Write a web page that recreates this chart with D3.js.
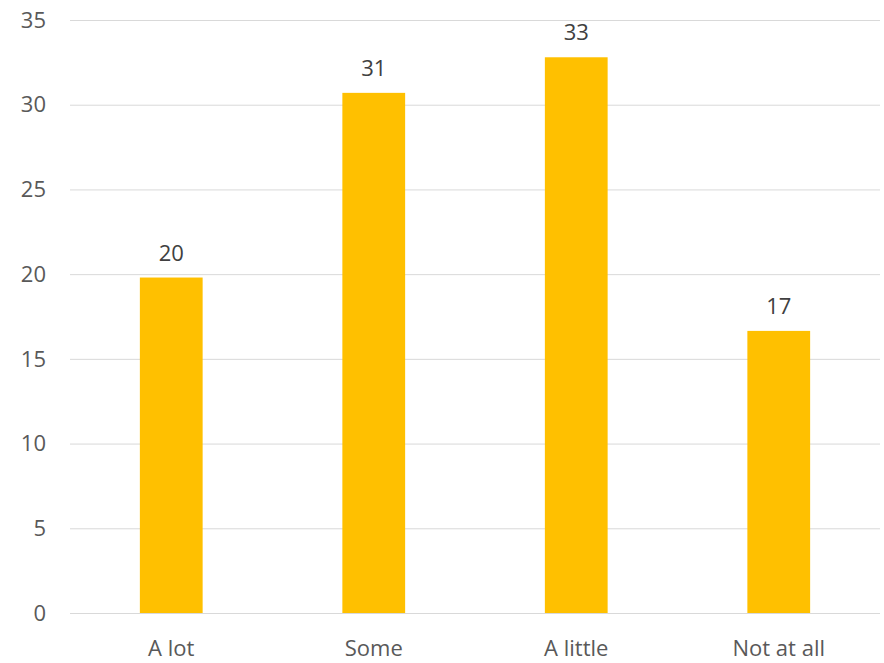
<!DOCTYPE html>
<html>
<head>
<meta charset="utf-8">
<title>Bar chart</title>
<script src="https://d3js.org/d3.v7.min.js"></script>
<style>
  body { margin: 0; background: #fff; }
  text { font-family: "Open Sans", sans-serif; }
</style>
</head>
<body>
<script>
var categories = ["A lot", "Some", "A little", "Not at all"];
var values = [19.8, 30.7, 32.8, 16.65];
var labels = ["20", "31", "33", "17"];
var yTicks = [0, 5, 10, 15, 20, 25, 30, 35];

var W = 884, H = 663;
var margin = {top: 20, right: 4, bottom: 50, left: 70};

var svg = d3.select("body").append("svg")
  .attr("width", W)
  .attr("height", H);

var x = d3.scaleBand()
  .domain(categories)
  .range([margin.left, W - margin.right])
  .paddingInner(0.69)
  .paddingOuter(0.345);

var y = d3.scaleLinear()
  .domain([0, 35])
  .range([613, 20]);

// gridlines
svg.append("g").selectAll("line")
  .data(yTicks)
  .enter().append("line")
    .attr("x1", margin.left)
    .attr("x2", W - margin.right)
    .attr("y1", function(d){ return y(d) + 0.5; })
    .attr("y2", function(d){ return y(d) + 0.5; })
    .attr("stroke", "#d9d9d9")
    .attr("stroke-width", 1);

// y tick labels
svg.append("g").selectAll("text")
  .data(yTicks)
  .enter().append("text")
    .attr("x", 46)
    .attr("y", function(d){ return y(d); })
    .attr("dy", "0.35em")
    .attr("text-anchor", "end")
    .attr("fill", "#595959")
    .style("font-size", "22px")
    .text(function(d){ return d; });

// bars
svg.append("g").selectAll("rect")
  .data(values)
  .enter().append("rect")
    .attr("x", function(d,i){ return x(categories[i]); })
    .attr("width", x.bandwidth())
    .attr("y", function(d){ return y(d); })
    .attr("height", function(d){ return y(0) - y(d); })
    .attr("fill", "#ffc000");

// value labels
svg.append("g").selectAll("text")
  .data(values)
  .enter().append("text")
    .attr("x", function(d,i){ return x(categories[i]) + x.bandwidth()/2; })
    .attr("y", function(d){ return y(d) - 17; })
    .attr("text-anchor", "middle")
    .attr("fill", "#404040")
    .style("font-size", "22px")
    .text(function(d,i){ return labels[i]; });

// category labels
svg.append("g").selectAll("text")
  .data(categories)
  .enter().append("text")
    .attr("x", function(d){ return x(d) + x.bandwidth()/2; })
    .attr("y", 656)
    .attr("text-anchor", "middle")
    .attr("fill", "#595959")
    .style("font-size", "22px")
    .text(function(d){ return d; });
</script>
</body>
</html>
